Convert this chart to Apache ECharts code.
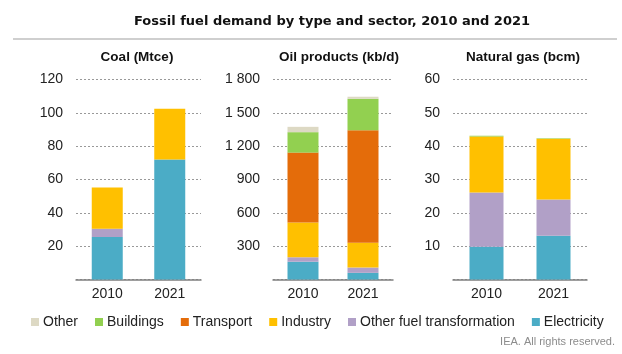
<!DOCTYPE html>
<html><head><meta charset="utf-8">
<script src="https://cdn.jsdelivr.net/npm/echarts@6/dist/echarts.min.js"></script>
<style>html,body{margin:0;padding:0;background:#fff}#c{width:622px;height:354px}</style>
</head><body><div id="c"></div>
<script>
const years = ['2010', '2021'];
const sectors = ['Other', 'Buildings', 'Transport', 'Industry', 'Other fuel transformation', 'Electricity'];
const colors = {
  'Other': '#DDD9C4', 'Buildings': '#92D050', 'Transport': '#E46C0A',
  'Industry': '#FFC000', 'Other fuel transformation': '#B1A0C7', 'Electricity': '#4BACC6'
};
// values per sector [2010, 2021]
const coal = {
  'Electricity': [25.5, 72], 'Other fuel transformation': [5, 0], 'Industry': [24.7, 30.4],
  'Transport': [0, 0], 'Buildings': [0, 0], 'Other': [0, 0]
};
const oil = {
  'Electricity': [160, 60], 'Other fuel transformation': [40, 48], 'Industry': [312, 223],
  'Transport': [630, 1012], 'Buildings': [184, 284], 'Other': [48, 18]
};
const gas = {
  'Electricity': [9.8, 13.1], 'Other fuel transformation': [16.3, 10.9], 'Industry': [16.8, 18.2],
  'Transport': [0, 0], 'Buildings': [0.2, 0.2], 'Other': [0, 0]
};
const panels = [
  {name: 'Coal', unit: '(Mtce)', data: coal, max: 120, interval: 20},
  {name: 'Oil products', unit: '(kb/d)', data: oil, max: 1800, interval: 300},
  {name: 'Natural gas', unit: '(bcm)', data: gas, max: 60, interval: 10}
];
const stackOrder = ['Electricity', 'Other fuel transformation', 'Industry', 'Transport', 'Buildings', 'Other'];

const gridPos = [
  {left: 76, width: 125, barW: 31, cx: 132},
  {left: 273, width: 120, barW: 31, cx: 334},
  {left: 453, width: 134, barW: 34, cx: 518}
];
const FONT = 'Liberation Sans';
const grids = [], xAxes = [], yAxes = [], series = [];
const titles = [{
  text: 'Fossil fuel demand by type and sector, 2010 and 2021',
  left: 327, top: 10, textAlign: 'center',
  textStyle: {fontFamily: 'DejaVu Sans', fontWeight: 'bold', fontSize: 13, color: '#111'}
}];
panels.forEach((p, i) => {
  const g = gridPos[i];
  grids.push({left: g.left, width: g.width, top: 79.5, height: 200, containLabel: false});
  xAxes.push({
    type: 'category', gridIndex: i, data: years,
    axisTick: {show: false},
    axisLine: {lineStyle: {color: '#7f7f7f', width: 1.5}},
    axisLabel: {color: '#222', fontSize: 14, fontFamily: FONT, margin: 8}
  });
  yAxes.push({
    type: 'value', gridIndex: i, min: 0, max: p.max, interval: p.interval,
    axisLine: {show: false}, axisTick: {show: false},
    splitLine: {lineStyle: {type: [2, 2], color: '#999', width: 1}},
    axisLabel: {
      color: '#222', fontSize: 14, fontFamily: FONT, margin: 13,
      formatter: v => v === 0 ? '' : String(v).replace(/\B(?=(\d{3})+(?!\d))/g, ' ')
    }
  });
  titles.push({
    text: '{b|' + p.name + '}{n| ' + p.unit + '}',
    left: g.cx, top: 45, textAlign: 'center',
    textStyle: {rich: {
      b: {fontFamily: FONT, fontWeight: 'bold', fontSize: 13.5, color: '#111'},
      n: {fontFamily: FONT, fontSize: 13.5, color: '#111'}
    }}
  });
  stackOrder.forEach(s => {
    series.push({
      name: s, type: 'bar', stack: 'p' + i, xAxisIndex: i, yAxisIndex: i,
      barWidth: g.barW, data: p.data[s],
      itemStyle: {color: colors[s]},
      emphasis: {disabled: true}
    });
  });
});

const chart = echarts.init(document.getElementById('c'), null, {renderer: 'canvas'});
chart.setOption({
  animation: false,
  title: titles,
  grid: grids, xAxis: xAxes, yAxis: yAxes, series: series,
  legend: {
    data: sectors, left: 26, top: 310, itemWidth: 8, itemHeight: 8, itemGap: 17,
    icon: 'rect',
    textStyle: {fontFamily: FONT, fontSize: 14, color: '#222', padding: [0, 0, 0, -1]}
  },
  graphic: [
    {type: 'line', shape: {x1: 13, y1: 39, x2: 617, y2: 39}, style: {stroke: '#bfbfbf', lineWidth: 1.5}},
    {type: 'text', right: 7, top: 336, style: {text: 'IEA. All rights reserved.', fontFamily: FONT, fontSize: 11, fill: '#8c8c8c'}}
  ]
});
</script></body></html>
